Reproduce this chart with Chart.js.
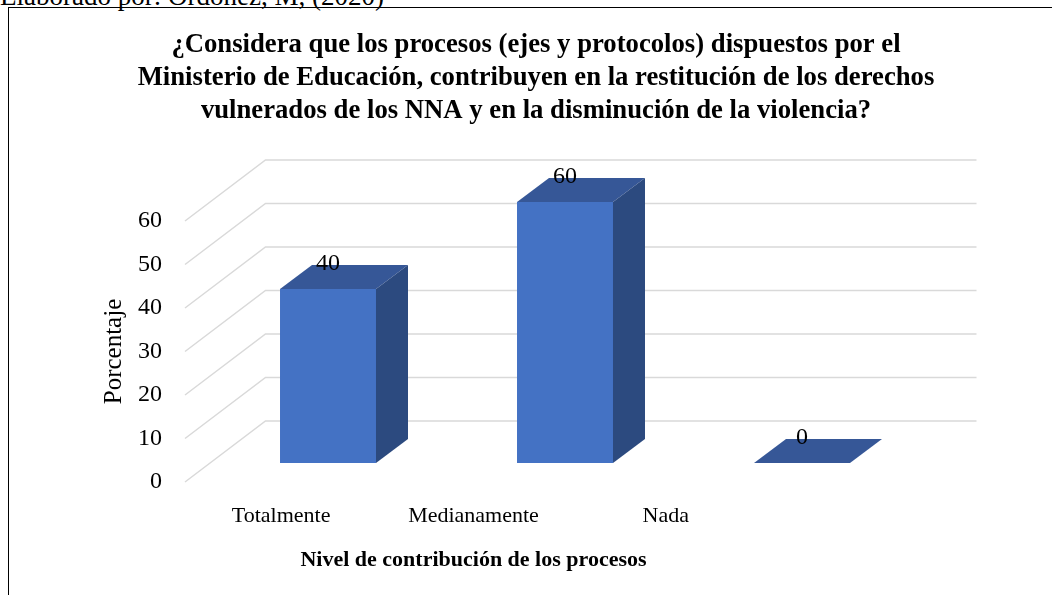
<!DOCTYPE html>
<html>
<head>
  <title>Nivel de contribución de los procesos</title>
  <script src="https://cdn.jsdelivr.net/npm/chart.js"></script>
  <style>
    body {
      margin: 0;
      background: #fff;
      width: 1052px;
      height: 595px;
      overflow: hidden;
      position: relative;
      font-family: 'Liberation Serif', 'Times New Roman', serif;
    }
    #caption {
      position: absolute;
      left: 0;
      top: -17px;
      font-size: 27px;
      line-height: 26px;
      white-space: nowrap;
      color: #000;
    }
    #frame {
      position: absolute;
      left: 8px;
      top: 7px;
      right: -2px;
      bottom: -2px;
      border-left: 1px solid #000;
      border-top: 1px solid #000;
    }
    #chart {
      position: absolute;
      left: 0;
      top: 0;
    }
  </style>
</head>
<body>
  <div id="caption">Elaborado por: Ordóñez, M, (2020)</div>
  <div id="frame"></div>
  <canvas id="chart" width="1052" height="595"></canvas>

  <script>
    // data
    const categories = ['Totalmente', 'Medianamente', 'Nada'];
    const values = [40, 60, 0];
    const barLabels = ['40', '60', '0'];
    const yTicks = [0, 10, 20, 30, 40, 50, 60];
    const titleLines = [
      '¿Considera que los procesos (ejes y protocolos) dispuestos por el',
      'Ministerio de Educación, contribuyen en la restitución de los derechos',
      'vulnerados de los NNA y en la disminución de la violencia?'
    ];
    const xTitle = 'Nivel de contribución de los procesos';
    const yTitle = 'Porcentaje';

    const FONT = "'Liberation Serif', 'Times New Roman', serif";
    const FRONT = '#4472C4', TOP = '#365797', SIDE = '#2C4A7F';
    const GRID = '#D9D9D9';
    // 3d look: depth of a bar and offset of the back wall from the bar plane (px)
    const BAR_DX = 32, BAR_DY = -24;
    const WALL_DX = 56, WALL_DY = -42;

    Chart.defaults.color = '#000';
    Chart.defaults.font.family = FONT;

    // back wall grid + floor diagonals, drawn behind the bars
    const wallPlugin = {
      id: 'wall',
      beforeDatasetsDraw(chart) {
        const ctx = chart.ctx;
        const yF = chart.scales.y, yB = chart.scales.yBar, xB = chart.scales.xBar;
        const left = chart.chartArea.left;
        const wallL = xB.getPixelForValue(-0.5) + WALL_DX;
        const wallR = xB.getPixelForValue(categories.length - 0.5) + WALL_DX;
        ctx.save();
        ctx.strokeStyle = GRID;
        ctx.lineWidth = 1.5;
        yTicks.forEach(v => {
          const yb = yB.getPixelForValue(v) + WALL_DY;
          ctx.beginPath();
          ctx.moveTo(left, yF.getPixelForValue(v));
          ctx.lineTo(wallL, yb);
          ctx.lineTo(wallR, yb);
          ctx.stroke();
        });
        ctx.restore();
      },
      afterDatasetsDraw(chart) {
        const ctx = chart.ctx;
        const meta = chart.getDatasetMeta(0);
        ctx.save();
        meta.data.forEach((bar, i) => {
          const p = bar.getProps(['x', 'y', 'base', 'width'], true);
          const l = p.x - p.width / 2, r = p.x + p.width / 2;
          // top face
          ctx.fillStyle = TOP;
          ctx.beginPath();
          ctx.moveTo(l, p.y);
          ctx.lineTo(r, p.y);
          ctx.lineTo(r + BAR_DX, p.y + BAR_DY);
          ctx.lineTo(l + BAR_DX, p.y + BAR_DY);
          ctx.closePath();
          ctx.fill();
          // side face
          ctx.fillStyle = SIDE;
          ctx.beginPath();
          ctx.moveTo(r, p.y);
          ctx.lineTo(r + BAR_DX, p.y + BAR_DY);
          ctx.lineTo(r + BAR_DX, p.base + BAR_DY);
          ctx.lineTo(r, p.base);
          ctx.closePath();
          ctx.fill();
        });
        // value labels
        ctx.fillStyle = '#000';
        ctx.font = '24px ' + FONT;
        ctx.textAlign = 'center';
        ctx.textBaseline = 'middle';
        meta.data.forEach((bar, i) => {
          ctx.fillText(barLabels[i], bar.x, bar.y - 25);
        });
        ctx.restore();
      }
    };

    new Chart(document.getElementById('chart'), {
      type: 'bar',
      data: {
        labels: categories,
        datasets: [{
          data: values.map((v, i) => ({ x: i, y: v })),
          xAxisID: 'xBar',
          yAxisID: 'yBar',
          backgroundColor: FRONT,
          borderWidth: 0,
          barPercentage: 0.405,
          categoryPercentage: 1,
          clip: false
        }]
      },
      options: {
        responsive: false,
        animation: false,
        devicePixelRatio: 1,
        layout: { padding: { left: 32, right: 12, top: 0, bottom: 0 } },
        plugins: {
          legend: { display: false },
          tooltip: { enabled: false },
          title: {
            display: true,
            text: titleLines,
            color: '#000',
            font: { family: FONT, size: 26.7, weight: 'bold', lineHeight: 33 / 26.7 },
            padding: { top: 28.5, bottom: 93.5 }
          }
        },
        scales: {
          xFront: {
            type: 'category',
            position: 'bottom',
            labels: categories,
            offset: true,
            grid: { display: false, drawTicks: false },
            border: { display: false },
            ticks: { font: { size: 22 }, padding: 21, maxRotation: 0 },
            title: {
              display: true,
              text: xTitle,
              font: { size: 22, weight: 'bold' },
              padding: { top: 0, bottom: 21 }
            },
            afterFit: s => { s.height = 113; }
          },
          xBar: {
            type: 'linear',
            display: false,
            offset: false,
            min: -0.6034,
            max: 1.8312,
            afterBuildTicks: s => { s.ticks = categories.map((c, i) => ({ value: i })); }
          },
          y: {
            position: 'left',
            min: 0,
            max: 60,
            grid: { display: false, drawTicks: false },
            border: { display: false },
            afterBuildTicks: s => { s.ticks = yTicks.map(v => ({ value: v })); },
            ticks: { font: { size: 24 }, padding: 23 },
            title: {
              display: true,
              text: yTitle,
              font: { size: 25 },
              padding: { top: 67, bottom: 0 }
            },
            afterFit: s => { s.width = 153; }
          },
          yBar: {
            position: 'right',
            min: -4.37,
            max: 55.63,
            grid: { display: false, drawTicks: false },
            border: { display: false },
            ticks: { display: false },
            afterFit: s => { s.width = 278; }
          }
        }
      },
      plugins: [wallPlugin]
    });
  </script>
</body>
</html>
